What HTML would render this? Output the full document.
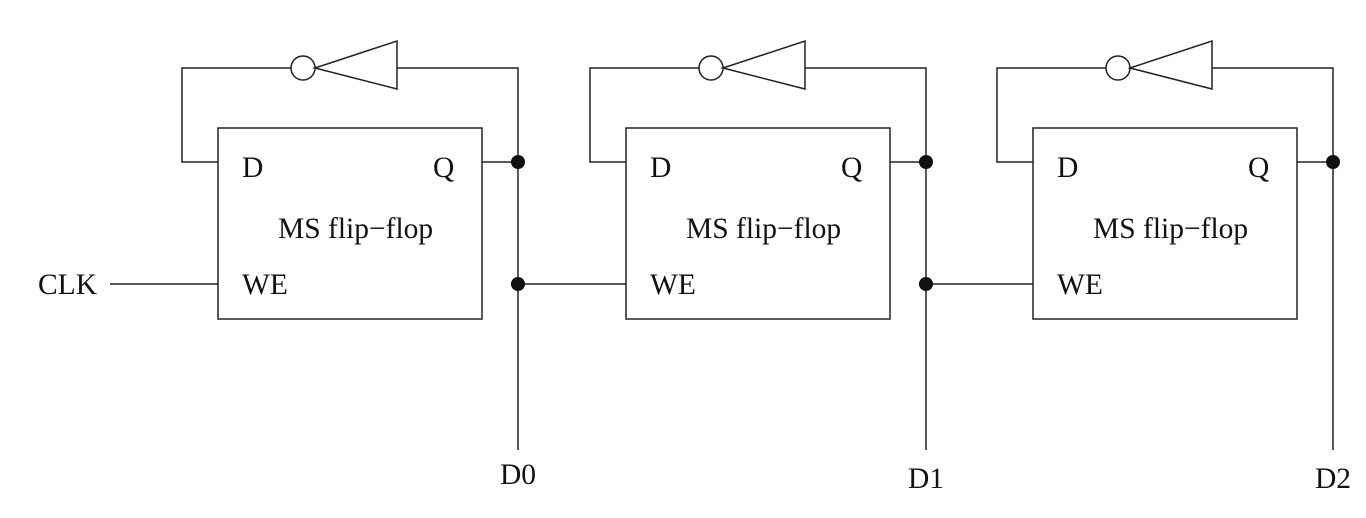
<!DOCTYPE html>
<html><head><meta charset="utf-8"><style>html,body{margin:0;padding:0;background:#fff}svg{display:block}</style></head>
<body>
<svg width="1366" height="518" viewBox="0 0 1366 518" xmlns="http://www.w3.org/2000/svg" font-family="Liberation Serif, serif" font-size="29.5" fill="#111">
<defs>
<g id="blk" stroke="#222" stroke-width="1.5" fill="none">
  <rect x="218" y="128" width="264" height="191"/>
  <polyline points="218,162 182,162 182,68 291,68"/>
  <circle cx="303" cy="68" r="12"/>
  <polygon points="315,68 397,41 397,89"/>
  <polyline points="397,68 518,68 518,450"/>
  <line x1="482" y1="162" x2="518" y2="162"/>
  <circle cx="518" cy="162" r="7" fill="#111" stroke="none"/>
</g>
</defs>
<use href="#blk"/>
<use href="#blk" x="408"/>
<use href="#blk" x="815"/>
<g stroke="#222" stroke-width="1.5" fill="none">
  <line x1="110" y1="284" x2="218" y2="284"/>
  <line x1="518" y1="284" x2="626" y2="284"/>
  <line x1="926" y1="284" x2="1033" y2="284"/>
</g>
<circle cx="518" cy="284" r="7"/>
<circle cx="926" cy="284" r="7"/>
<g>
<text x="38" y="294">CLK</text>
<text x="242" y="177">D</text><text x="433" y="177">Q</text>
<text x="278" y="238">MS flip−flop</text><text x="242" y="294">WE</text>
<text x="650" y="177">D</text><text x="841" y="177">Q</text>
<text x="686" y="238">MS flip−flop</text><text x="650" y="294">WE</text>
<text x="1057" y="177">D</text><text x="1248" y="177">Q</text>
<text x="1093" y="238">MS flip−flop</text><text x="1057" y="294">WE</text>
<text x="518" y="484" text-anchor="middle">D0</text>
<text x="926" y="488" text-anchor="middle">D1</text>
<text x="1333" y="488" text-anchor="middle">D2</text>
</g>
</svg>
</body></html>
